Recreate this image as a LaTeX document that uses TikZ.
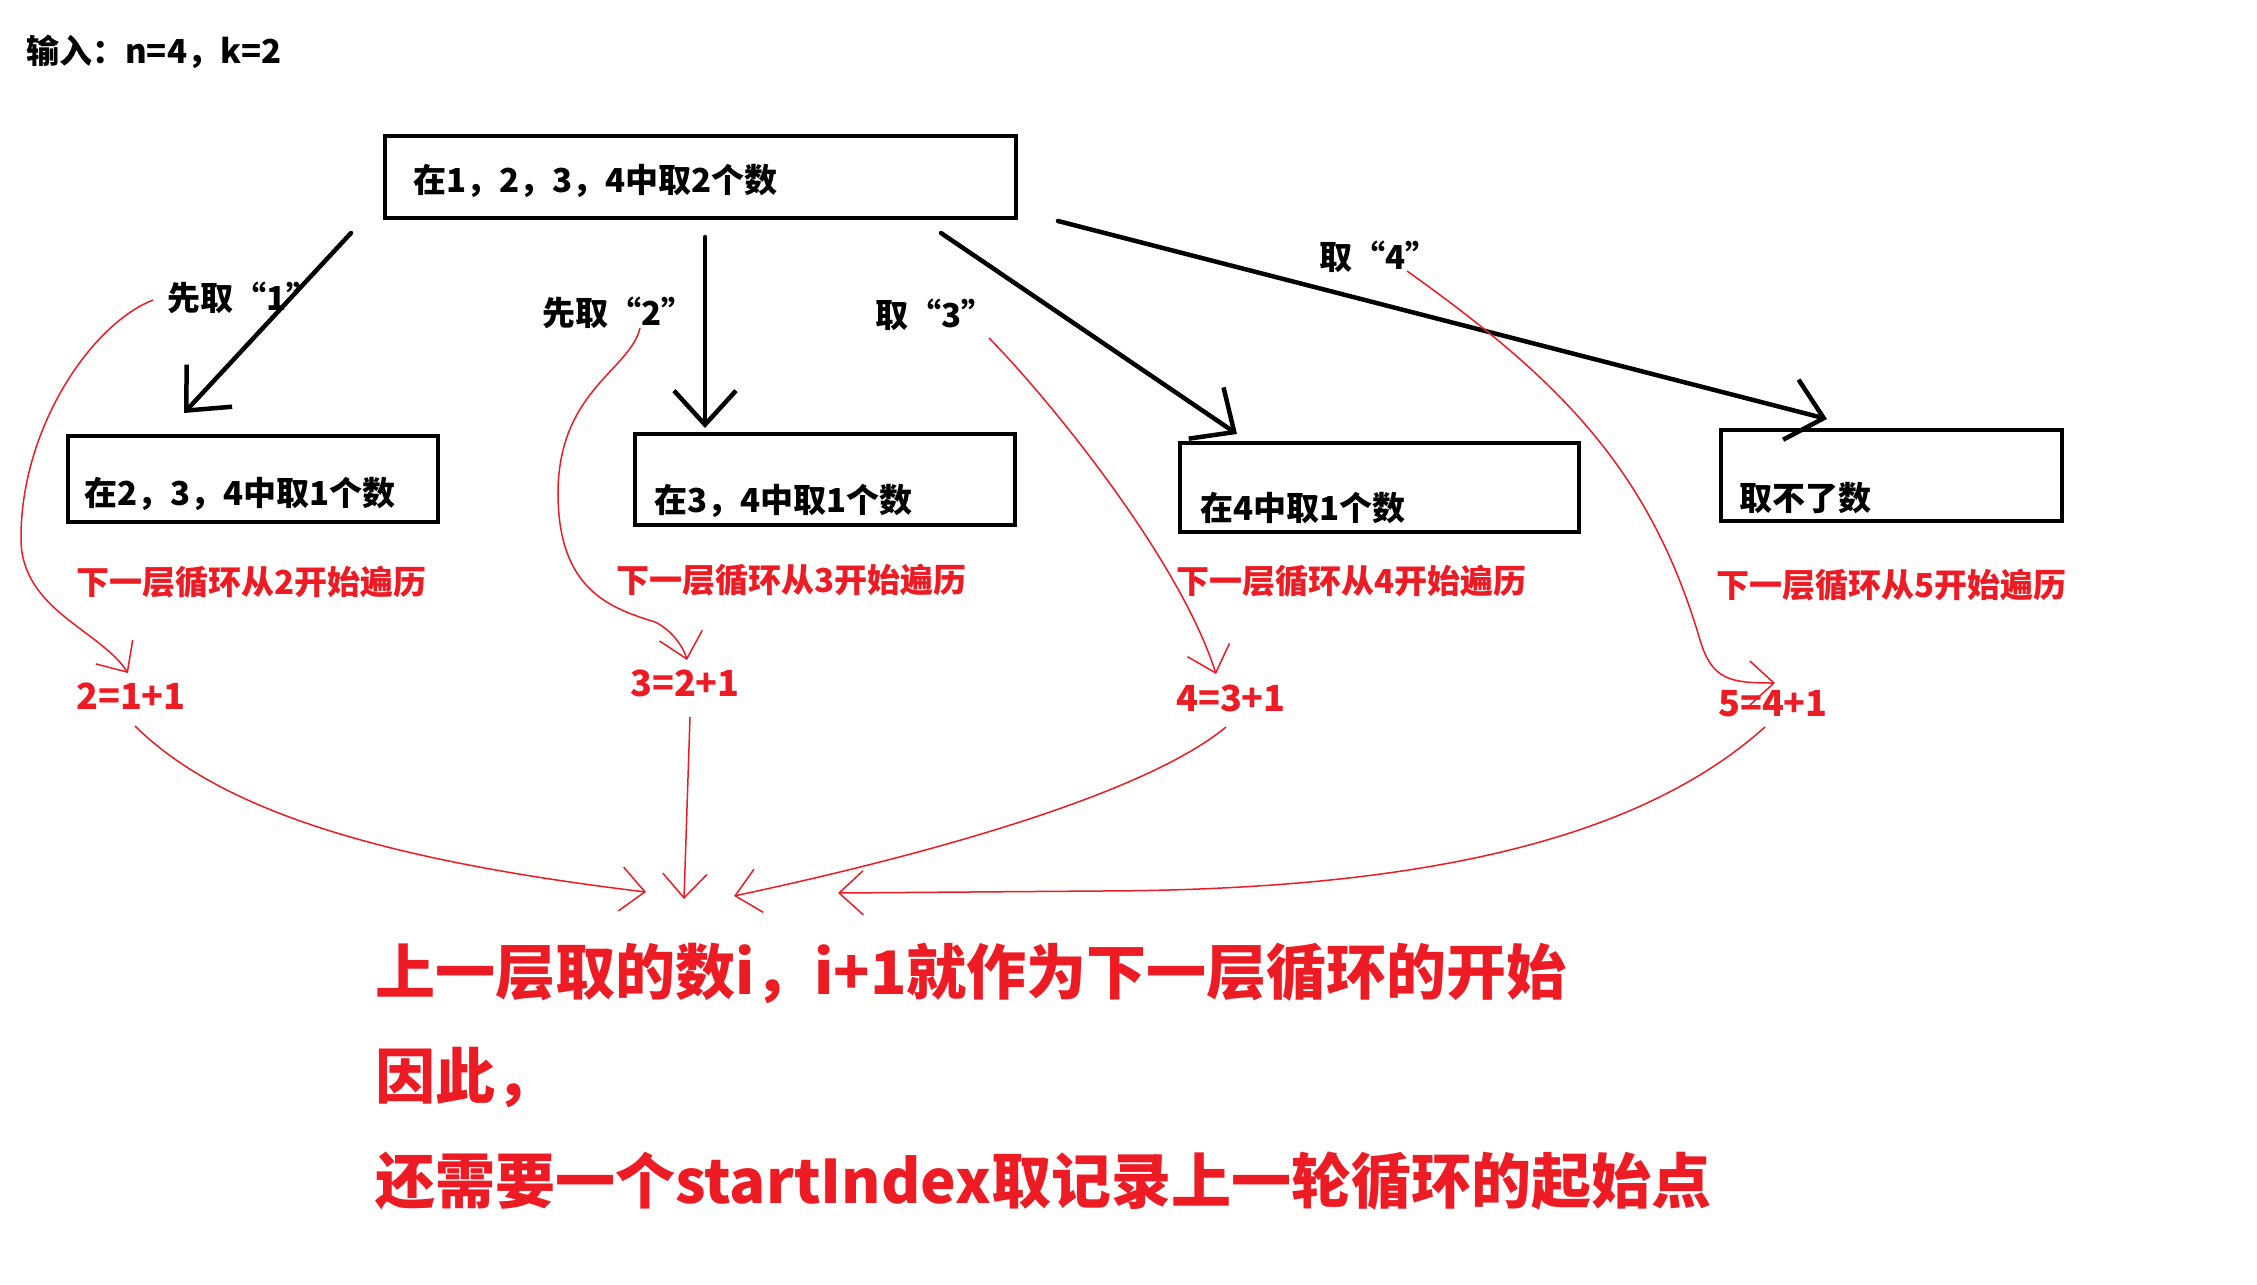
\documentclass[tikz,border=0pt]{standalone}
\usepackage{fontspec}
\setmainfont{Noto Sans CJK SC}
\usetikzlibrary{arrows.meta}
\definecolor{pred}{RGB}{237,28,36}
\tikzset{
  boxnode/.style={draw=black, line width=4.5pt, inner sep=0pt},
  btxt/.style={anchor=west, inner sep=0pt, font=\bfseries\fontsize{33}{40}\selectfont, text=black},
  rtxt/.style={btxt, text=pred},
  ftxt/.style={anchor=west, inner sep=0pt, font=\bfseries\fontsize{36}{43}\selectfont, text=pred},
  bigtxt/.style={anchor=west, inner sep=0pt, font=\bfseries\fontsize{60}{70}\selectfont, text=pred},
  blackarrow/.style={draw=black, line width=4.5pt, line cap=round, -{Straight Barb[length=34pt,width=62pt]}},
  redarrow/.style={draw=pred, line width=1.5pt, -{Straight Barb[length=24pt,width=44pt]}},
}
\begin{document}
\begin{tikzpicture}[x=1pt,y=-1pt]
\path[fill=white] (0,0) rectangle (2257,1285);

% boxes
\node[boxnode, minimum width=631pt, minimum height=82pt] (top) at (700.5,177) {};
\node[boxnode, minimum width=370pt, minimum height=86pt] (b2) at (253,479) {};
\node[boxnode, minimum width=380pt, minimum height=91pt] (b3) at (825,479.5) {};
\node[boxnode, minimum width=399pt, minimum height=89pt] (b4) at (1379.5,487.5) {};
\node[boxnode, minimum width=341pt, minimum height=91pt] (b5) at (1891.5,475.5) {};

% black texts
\node[btxt] (input) at (26,52) {输入：n=4，k=2};
\node[btxt] (ttop) at (413,181) {在1，2，3，4中取2个数};
\node[btxt] (t2) at (84,494) {在2，3，4中取1个数};
\node[btxt] (t3) at (654,501) {在3，4中取1个数};
\node[btxt] (t4) at (1200,508) {在4中取1个数};
\node[btxt] (t5) at (1739,498) {取不了数};

\node[btxt] (l1) at (167,298) {先取“1”};
\node[btxt] (l2) at (542,313) {先取“2”};
\node[btxt] (l3) at (875,315) {取“3”};
\node[btxt] (l4) at (1319,257) {取“4”};

% red labels
\node[rtxt] (n2) at (76,582) {下一层循环从2开始遍历};
\node[rtxt] (n3) at (616,580) {下一层循环从3开始遍历};
\node[rtxt] (n4) at (1176,581) {下一层循环从4开始遍历};
\node[rtxt] (n5) at (1716,585) {下一层循环从5开始遍历};

\node[ftxt] (f2) at (76,696) {2=1+1};
\node[ftxt] (f3) at (630,683) {3=2+1};
\node[ftxt] (f4) at (1176,698) {4=3+1};
\node[ftxt] (f5) at (1718,704) {5=4+1};

\node[bigtxt] (s1) at (375,973) {上一层取的数i，i+1就作为下一层循环的开始};
\node[bigtxt] (s2) at (375,1077) {因此，};
\node[bigtxt] (s3) at (375,1181) {还需要一个startIndex取记录上一轮循环的起始点};

% coordinates
\coordinate (a1s) at (351,233); \coordinate (a1e) at (184,413);
\coordinate (a2s) at (705,237); \coordinate (a2e) at (705,428);
\coordinate (a3s) at (941,233); \coordinate (a3e) at (1237,434);
\coordinate (a4s) at (1058,221); \coordinate (a4e) at (1827,419);

\coordinate (r1s) at (153,300); \coordinate (r1e) at (128,673);
\coordinate (r2s) at (640,328); \coordinate (r2e) at (687,660);
\coordinate (r3s) at (989,338); \coordinate (r3e) at (1216,674);
\coordinate (r4s) at (1407,271); \coordinate (r4e) at (1775,683);
\coordinate (r5s) at (135,726); \coordinate (r5e) at (646,892);
\coordinate (r6s) at (690,717); \coordinate (r6e) at (684,899);
\coordinate (r7s) at (1226,727); \coordinate (r7e) at (734,896);
\coordinate (r8s) at (1765,727); \coordinate (r8e) at (838,893);

% black arrows
\draw[blackarrow] (a1s) -- (a1e);
\draw[blackarrow] (a2s) -- (a2e);
\draw[blackarrow] (a3s) -- (a3e);
\draw[blackarrow] (a4s) -- (a4e);

% red arrows
\draw[redarrow] (r1s) .. controls (90,325) and (20,430) .. (21,540)
                      .. controls (22,610) and (100,630) .. (r1e);
\draw[redarrow] (r2s) .. controls (630,370) and (560,390) .. (558,490)
                      .. controls (557,590) and (610,608) .. (655,622)
                      .. controls (672,630) and (684,648) .. (r2e);
\draw[redarrow] (r3s) .. controls (1050,400) and (1180,560) .. (r3e);
\draw[redarrow] (r4s) .. controls (1560,380) and (1650,470) .. (1700,640)
                      .. controls (1712,680) and (1730,683) .. (r4e);
\draw[redarrow] (r5s) .. controls (220,810) and (380,860) .. (r5e);
\draw[redarrow] (r6s) -- (r6e);
\draw[redarrow] (r7s) .. controls (1150,790) and (950,850) .. (r7e);
\draw[redarrow] (r8s) .. controls (1650,830) and (1450,890) .. (1100,891) -- (r8e);
\end{tikzpicture}
\end{document}
